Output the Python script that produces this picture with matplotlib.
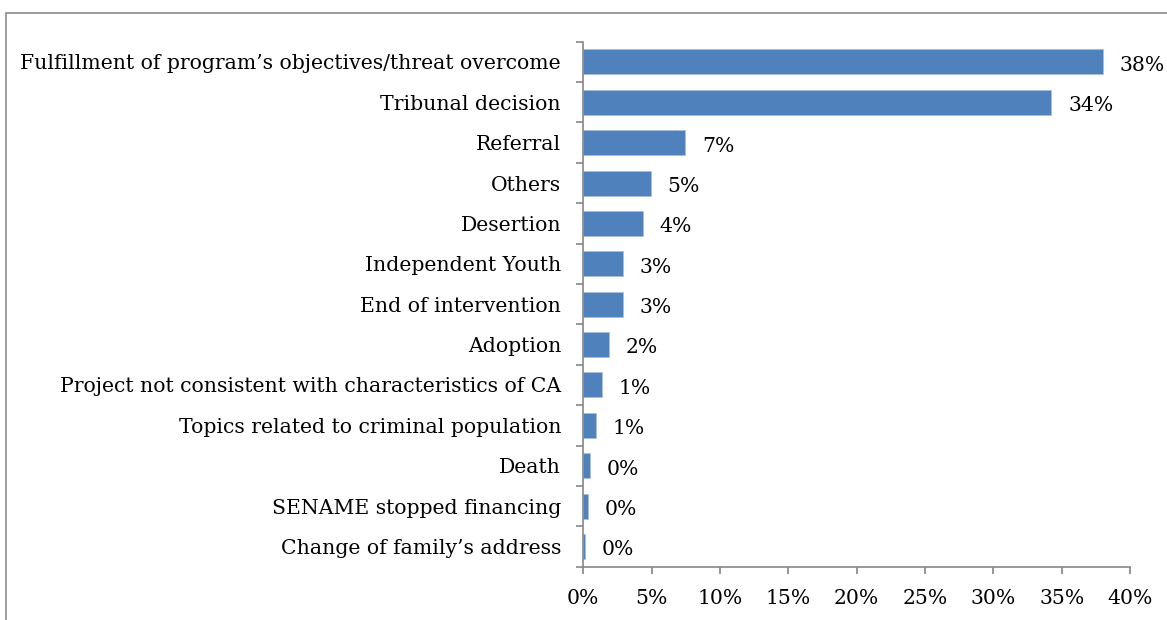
import matplotlib
matplotlib.use("Agg")
from matplotlib import pyplot as plt
from matplotlib.patches import Rectangle
from matplotlib.ticker import MultipleLocator, FuncFormatter, FixedLocator, NullFormatter
import numpy as np

# reasons for leaving the program, share of cases (%)
reasons = [
    "Fulfillment of program\u2019s objectives/threat overcome",
    "Tribunal decision",
    "Referral",
    "Others",
    "Desertion",
    "Independent Youth",
    "End of intervention",
    "Adoption",
    "Project not consistent with characteristics of CA",
    "Topics related to criminal population",
    "Death",
    "SENAME stopped financing",
    "Change of family\u2019s address",
]
shares = [38.0, 34.25, 7.45, 4.93, 4.37, 2.93, 2.93, 1.90, 1.39, 0.93, 0.48, 0.37, 0.15]

bar_color = "#4F81BD"
axis_color = "#868686"

plt.rcParams["font.family"] = ["DejaVu Serif"]
plt.rcParams["font.size"] = 14.7

fig = plt.figure(figsize=(11.67, 6.2), dpi=100)
ax = fig.add_axes([0.4998, 0.086, 0.4685, 0.8467])

y = np.arange(len(reasons))
ax.barh(y, shares, height=0.62, color=bar_color, edgecolor="#A7C0DE", linewidth=0.6)

for yi, v in zip(y, shares):
    ax.annotate("{:.0f}%".format(v), (v, yi), xytext=(12, -1), textcoords="offset points",
                va="center_baseline", ha="left")

ax.set_xlim(0, 40)
ax.set_ylim(len(reasons) - 0.5, -0.5)
ax.xaxis.set_major_locator(MultipleLocator(5))
ax.xaxis.set_major_formatter(FuncFormatter(lambda v, p: "{:.0f}%".format(v)))

# category labels centred, tick marks on the boundaries
ax.set_yticks(y)
ax.set_yticklabels(reasons)
ax.tick_params(axis="y", which="major", length=0, pad=16)
ax.yaxis.set_minor_locator(FixedLocator(np.arange(-0.5, len(reasons), 1.0)))
ax.yaxis.set_minor_formatter(NullFormatter())
ax.tick_params(axis="y", which="minor", length=5, color=axis_color, width=1.2)
ax.tick_params(axis="x", length=5, color=axis_color, width=1.2, pad=11)

for side in ["top", "right"]:
    ax.spines[side].set_visible(False)
for side in ["left", "bottom"]:
    ax.spines[side].set_color(axis_color)
    ax.spines[side].set_linewidth(1.2)

# chart frame
fig.patches.append(Rectangle((5.5 / 1167, -0.1), 1.2, 1 - 12.5 / 620 + 0.1,
                             transform=fig.transFigure, fill=False,
                             edgecolor="#8C8C8C", linewidth=1.2))

fig.savefig("out.png", dpi=100)
